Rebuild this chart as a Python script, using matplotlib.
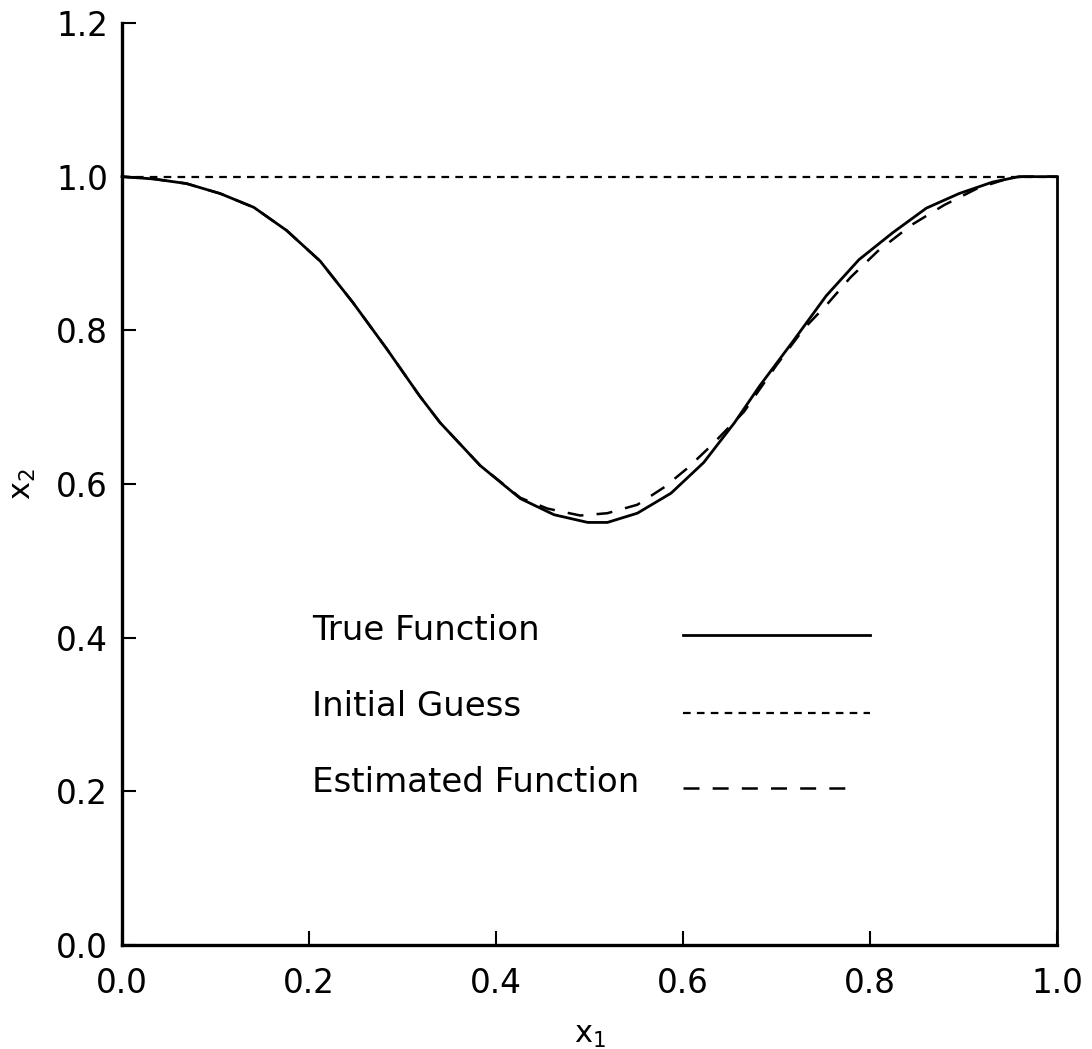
import matplotlib
matplotlib.use("Agg")
import matplotlib.pyplot as plt

plt.rcParams['font.family'] = ['DejaVu Sans']
plt.rcParams['mathtext.default'] = 'regular'
plt.rcParams['lines.scale_dashes'] = False

# ---- data ----
true_x = [0.0, 0.034, 0.069, 0.105, 0.141, 0.176, 0.212, 0.247, 0.283, 0.318, 0.340,
          0.383, 0.426, 0.462, 0.498, 0.519, 0.551, 0.587, 0.622, 0.655, 0.682, 0.717,
          0.753, 0.788, 0.824, 0.860, 0.895, 0.931, 0.959, 1.0]
true_y = [1.0, 0.997, 0.991, 0.978, 0.960, 0.930, 0.890, 0.836, 0.776, 0.715, 0.680,
          0.624, 0.581, 0.560, 0.550, 0.550, 0.562, 0.588, 0.628, 0.680, 0.728, 0.785,
          0.845, 0.892, 0.927, 0.959, 0.978, 0.993, 1.0, 1.0]

est_x = [0.0, 0.034, 0.069, 0.105, 0.141, 0.176, 0.212, 0.247, 0.283, 0.318, 0.340,
         0.383, 0.426, 0.455, 0.490, 0.519, 0.551, 0.580, 0.605, 0.630, 0.665, 0.700,
         0.729, 0.754, 0.779, 0.808, 0.844, 0.879, 0.915, 0.951, 0.965, 1.0]
est_y = [1.0, 0.997, 0.991, 0.978, 0.960, 0.930, 0.890, 0.836, 0.776, 0.715, 0.680,
         0.624, 0.582, 0.568, 0.559, 0.562, 0.573, 0.596, 0.621, 0.650, 0.694, 0.755,
         0.802, 0.834, 0.869, 0.903, 0.937, 0.963, 0.985, 0.999, 1.0, 1.0]

guess_x = [0.0, 1.0]
guess_y = [1.0, 1.0]

bound_x = [1.0, 1.0]
bound_y = [0.0, 1.0]

x_ticks = [0.0, 0.2, 0.4, 0.6, 0.8, 1.0]
x_tick_labels = ['0.0', '0.2', '0.4', '0.6', '0.8', '1.0']
y_ticks = [0.0, 0.2, 0.4, 0.6, 0.8, 1.0, 1.2]
y_tick_labels = ['0.0', '0.2', '0.4', '0.6', '0.8', '1.0', '1.2']

legend_labels = ['True Function', 'Initial Guess', 'Estimated Function']
legend_text_x = 0.203
legend_text_y = [0.397, 0.298, 0.199]
legend_line_x = [[0.6, 0.8], [0.6, 0.8], [0.6, 0.783]]
legend_line_y = [0.404, 0.302, 0.204]

# ---- figure ----
fig = plt.figure(figsize=(10.92, 10.49), dpi=100)
ax = fig.add_axes([0.1117, 0.0991, 0.8565, 0.879])

solid = dict(color='black', lw=2.0, linestyle='-', solid_joinstyle='round')
dotted = dict(color='black', lw=1.6, linestyle=(0, (5.5, 4.5)))
dashed = dict(color='black', lw=1.8, linestyle=(0, (11.5, 9.5)))

ax.plot(true_x, true_y, clip_on=False, **solid)
ax.plot(guess_x, guess_y, clip_on=False, **dotted)
ax.plot(est_x, est_y, clip_on=False, **dashed)
ax.plot(bound_x, bound_y, clip_on=False, **solid)

styles = [solid, dotted, dashed]
for lab, ty, lx, ly, st in zip(legend_labels, legend_text_y, legend_line_x, legend_line_y, styles):
    ax.text(legend_text_x, ty, lab, fontsize=24.5, ha='left', va='baseline')
    ax.plot(lx, [ly, ly], **st)

ax.set_xlim(0, 1)
ax.set_ylim(0, 1.2)
ax.set_xticks(x_ticks)
ax.set_xticklabels(x_tick_labels)
ax.set_yticks(y_ticks)
ax.set_yticklabels(y_tick_labels)

for s in ['top', 'right']:
    ax.spines[s].set_visible(False)
for s in ['left', 'bottom']:
    ax.spines[s].set_linewidth(2.4)

ax.tick_params(axis='both', direction='in', length=10, width=1.5, labelsize=23.5)
ax.tick_params(axis='y', pad=10)
ax.tick_params(axis='x', pad=16)

ax.set_xlabel('x$_1$', fontsize=22)
ax.xaxis.set_label_coords(0.5, -0.098)
ax.xaxis.label.set_va('center')
ax.set_ylabel('x$_2$', fontsize=22)
ax.yaxis.set_label_coords(-0.105, 0.5)
ax.yaxis.label.set_va('center')

fig.savefig('out.png', dpi=100)
